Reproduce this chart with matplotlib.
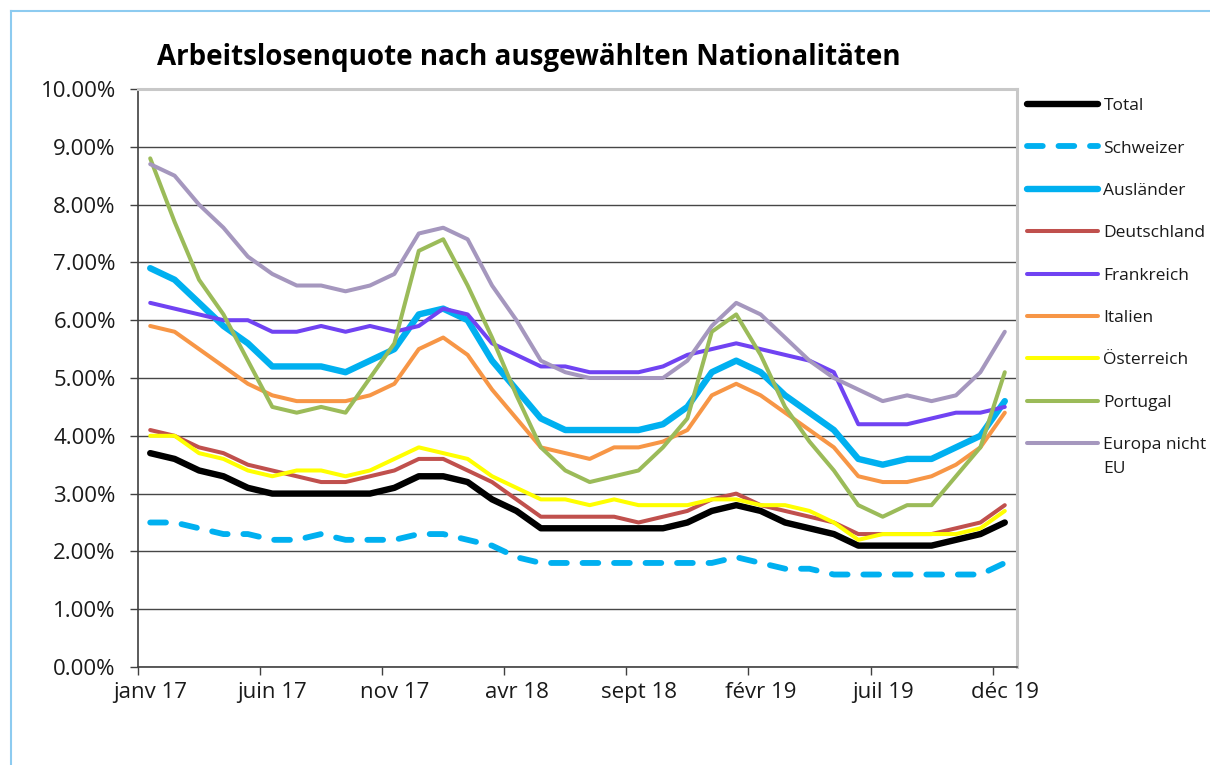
import numpy as np
import matplotlib
matplotlib.use("Agg")
import matplotlib.pyplot as plt
from matplotlib.lines import Line2D

plt.rcParams['font.family'] = ['Open Sans', 'DejaVu Sans']

# monthly values, janv 17 .. déc 19 (in %)
total = [3.7, 3.6, 3.4, 3.3, 3.1, 3.0, 3.0, 3.0, 3.0, 3.0,
         3.1, 3.3, 3.3, 3.2, 2.9, 2.7, 2.4, 2.4, 2.4, 2.4,
         2.4, 2.4, 2.5, 2.7, 2.8, 2.7, 2.5, 2.4, 2.3, 2.1,
         2.1, 2.1, 2.1, 2.2, 2.3, 2.5]
schweizer = [2.5, 2.5, 2.4, 2.3, 2.3, 2.2, 2.2, 2.3, 2.2, 2.2,
             2.2, 2.3, 2.3, 2.2, 2.1, 1.9, 1.8, 1.8, 1.8, 1.8,
             1.8, 1.8, 1.8, 1.8, 1.9, 1.8, 1.7, 1.7, 1.6, 1.6,
             1.6, 1.6, 1.6, 1.6, 1.6, 1.8]
auslaender = [6.9, 6.7, 6.3, 5.9, 5.6, 5.2, 5.2, 5.2, 5.1, 5.3,
              5.5, 6.1, 6.2, 6.0, 5.3, 4.8, 4.3, 4.1, 4.1, 4.1,
              4.1, 4.2, 4.5, 5.1, 5.3, 5.1, 4.7, 4.4, 4.1, 3.6,
              3.5, 3.6, 3.6, 3.8, 4.0, 4.6]
deutschland = [4.1, 4.0, 3.8, 3.7, 3.5, 3.4, 3.3, 3.2, 3.2, 3.3,
               3.4, 3.6, 3.6, 3.4, 3.2, 2.9, 2.6, 2.6, 2.6, 2.6,
               2.5, 2.6, 2.7, 2.9, 3.0, 2.8, 2.7, 2.6, 2.5, 2.3,
               2.3, 2.3, 2.3, 2.4, 2.5, 2.8]
frankreich = [6.3, 6.2, 6.1, 6.0, 6.0, 5.8, 5.8, 5.9, 5.8, 5.9,
              5.8, 5.9, 6.2, 6.1, 5.6, 5.4, 5.2, 5.2, 5.1, 5.1,
              5.1, 5.2, 5.4, 5.5, 5.6, 5.5, 5.4, 5.3, 5.1, 4.2,
              4.2, 4.2, 4.3, 4.4, 4.4, 4.5]
italien = [5.9, 5.8, 5.5, 5.2, 4.9, 4.7, 4.6, 4.6, 4.6, 4.7,
           4.9, 5.5, 5.7, 5.4, 4.8, 4.3, 3.8, 3.7, 3.6, 3.8,
           3.8, 3.9, 4.1, 4.7, 4.9, 4.7, 4.4, 4.1, 3.8, 3.3,
           3.2, 3.2, 3.3, 3.5, 3.8, 4.4]
oesterreich = [4.0, 4.0, 3.7, 3.6, 3.4, 3.3, 3.4, 3.4, 3.3, 3.4,
               3.6, 3.8, 3.7, 3.6, 3.3, 3.1, 2.9, 2.9, 2.8, 2.9,
               2.8, 2.8, 2.8, 2.9, 2.9, 2.8, 2.8, 2.7, 2.5, 2.2,
               2.3, 2.3, 2.3, 2.3, 2.4, 2.7]
portugal = [8.8, 7.7, 6.7, 6.1, 5.3, 4.5, 4.4, 4.5, 4.4, 5.0,
            5.6, 7.2, 7.4, 6.6, 5.7, 4.7, 3.8, 3.4, 3.2, 3.3,
            3.4, 3.8, 4.3, 5.8, 6.1, 5.4, 4.5, 3.9, 3.4, 2.8,
            2.6, 2.8, 2.8, 3.3, 3.8, 5.1]
europa_nicht_eu = [8.7, 8.5, 8.0, 7.6, 7.1, 6.8, 6.6, 6.6, 6.5, 6.6,
                   6.8, 7.5, 7.6, 7.4, 6.6, 6.0, 5.3, 5.1, 5.0, 5.0,
                   5.0, 5.0, 5.3, 5.9, 6.3, 6.1, 5.7, 5.3, 5.0, 4.8,
                   4.6, 4.7, 4.6, 4.7, 5.1, 5.8]

month_labels = ["janv 17", "juin 17", "nov 17", "avr 18",
                "sept 18", "févr 19", "juil 19", "déc 19"]

series = [
    ("Total", total, "#000000", 4.6, "-"),
    ("Schweizer", schweizer, "#00B0F0", 4.2, (0, (2.7, 2.7))),
    ("Ausländer", auslaender, "#00B0F0", 4.6, "-"),
    ("Deutschland", deutschland, "#C0504D", 2.9, "-"),
    ("Frankreich", frankreich, "#7043F2", 2.9, "-"),
    ("Italien", italien, "#F79646", 2.9, "-"),
    ("Österreich", oesterreich, "#FFFF00", 2.9, "-"),
    ("Portugal", portugal, "#9BBB59", 2.9, "-"),
    ("Europa nicht", europa_nicht_eu, "#A597BE", 2.9, "-"),
]

fig = plt.figure(figsize=(12.1, 7.65), dpi=100)
ax = fig.add_axes([138 / 1210, 1 - 667 / 765, 879 / 1210, 578 / 765])

x = np.arange(len(total))
for name, vals, color, lw, ls in series:
    ax.plot(x, vals, color=color, lw=lw, linestyle=ls, label=name,
            solid_capstyle='round', dash_capstyle='round')

ax.set_xlim(-0.5, len(total) - 0.5)
ax.set_ylim(0, 10)
ax.set_yticks(np.arange(0, 11, 1))
ax.set_yticklabels([f"{v:.2f}%" for v in range(11)])
ax.set_xticks(np.arange(0, 36, 5))
ax.set_xticklabels(month_labels)
ax.set_xticks(np.arange(-0.5, 35, 5), minor=True)
ax.tick_params(axis='x', which='major', length=0, labelsize=16, pad=11, colors='#1a1a1a')
ax.tick_params(axis='x', which='minor', length=6, width=1, direction='out', color='#404040')
ax.tick_params(axis='y', length=6, width=1, direction='out', labelsize=16, pad=10,
               colors='#1a1a1a', color='#404040')
ax.yaxis.grid(True, color='#474747', lw=1.0)
ax.set_axisbelow(True)

for s in ['left', 'bottom']:
    ax.spines[s].set_color('#404040')
    ax.spines[s].set_linewidth(1.2)
for s in ['top', 'right']:
    ax.spines[s].set_color('#C8C8C8')
    ax.spines[s].set_linewidth(2.2)

fig.text(157 / 1210, 1 - 58 / 765, "Arbeitslosenquote nach ausgewählten Nationalitäten",
         fontsize=20, fontweight='bold', va='center', ha='left', color='#000000')

leg = ax.legend(loc='upper left', bbox_to_anchor=(1027 / 1210, 1 - 98 / 765),
                bbox_transform=fig.transFigure, frameon=False, fontsize=12.5,
                handlelength=4.1, handletextpad=0.3, labelspacing=1.51,
                borderpad=0, borderaxespad=0)
for t in leg.get_texts():
    t.set_color('#1a1a1a')
# second line of the last legend label sits under the first one
ax.annotate("EU", xy=(0, 0), xycoords=leg.get_texts()[-1], xytext=(0, -5.5),
            textcoords='offset points', va='top', ha='left', fontsize=12.5,
            color='#1a1a1a', annotation_clip=False, zorder=10)

# light blue frame around the chart
fig.add_artist(Line2D([11 / 1210, 1], [1 - 11 / 765, 1 - 11 / 765],
                      transform=fig.transFigure, color='#8DCBF0', lw=1.5))
fig.add_artist(Line2D([11 / 1210, 11 / 1210], [0, 1 - 11 / 765],
                      transform=fig.transFigure, color='#8DCBF0', lw=1.5))

fig.savefig("out.png", dpi=100)
